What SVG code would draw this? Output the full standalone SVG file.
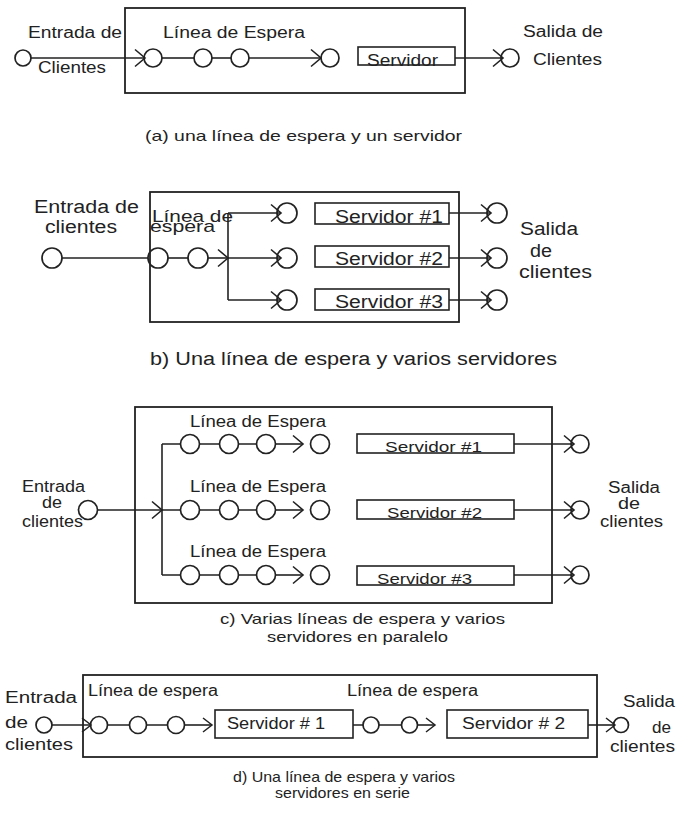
<svg xmlns="http://www.w3.org/2000/svg" width="678" height="820" viewBox="0 0 678 820">
<style>
.box{fill:none;stroke:#222;stroke-width:1.8}
.srv{fill:#fff;stroke:#222;stroke-width:1.6}
.c{fill:none;stroke:#222;stroke-width:1.7}
.ln{fill:none;stroke:#222;stroke-width:1.6}
text{font-family:"Liberation Sans",Arial,sans-serif;fill:#222}
.f16{font-size:16px}.f15{font-size:15px}.f17{font-size:17px}.f18{font-size:18px}
</style>
<defs>
<marker id="ch" markerUnits="userSpaceOnUse" viewBox="-1 -1 12 19" refX="10" refY="8.5" markerWidth="12" markerHeight="19" orient="auto" overflow="visible">
<path d="M0,0 L10,8.5 L0,17" fill="none" stroke="#222" stroke-width="1.6"/>
</marker>
<marker id="chs" markerUnits="userSpaceOnUse" viewBox="-1 -1 11 16" refX="9" refY="7" markerWidth="11" markerHeight="16" orient="auto" overflow="visible">
<path d="M0,0 L9,7 L0,14" fill="none" stroke="#222" stroke-width="1.5"/>
</marker>
</defs>

<!-- (a) -->
<g id="a-system"><rect class="box" x="125" y="8" width="340" height="85"/></g>
<g id="a-entry"><circle class="c" cx="23" cy="58" r="8"/>
<text class="f16" x="28" y="38" textLength="94" lengthAdjust="spacingAndGlyphs">Entrada de</text>
<text class="f16" x="38" y="73" textLength="68" lengthAdjust="spacingAndGlyphs">Clientes</text></g>
<g id="a-queue"><text class="f16" x="163" y="38" textLength="142" lengthAdjust="spacingAndGlyphs">Línea de Espera</text>
<circle class="c" cx="153" cy="58" r="9"/><circle class="c" cx="203" cy="58" r="9"/><circle class="c" cx="240" cy="58" r="9"/><circle class="c" cx="330" cy="58" r="9"/></g>
<g id="a-server"><rect class="srv" x="358" y="47" width="97" height="18"/>
<text class="f16" x="367" y="66" textLength="71" lengthAdjust="spacingAndGlyphs">Servidor</text></g>
<g id="a-exit"><circle class="c" cx="510" cy="58" r="9"/>
<text class="f16" x="523" y="37" textLength="80" lengthAdjust="spacingAndGlyphs">Salida de</text>
<text class="f16" x="533" y="65" textLength="69" lengthAdjust="spacingAndGlyphs">Clientes</text></g>
<g id="a-caption"><text class="f15" x="145" y="141" textLength="317" lengthAdjust="spacingAndGlyphs">(a) una línea de espera y un servidor</text></g>

<!-- (b) -->
<g id="b-system"><rect class="box" x="150" y="192" width="309" height="130"/></g>
<g id="b-entry"><circle class="c" cx="52" cy="258" r="10"/>
<text class="f18" x="34" y="213" textLength="105" lengthAdjust="spacingAndGlyphs">Entrada de</text>
<text class="f18" x="45" y="233" textLength="72" lengthAdjust="spacingAndGlyphs">clientes</text></g>
<g id="b-queue"><text class="f17" x="152" y="222" textLength="81" lengthAdjust="spacingAndGlyphs">Línea de</text>
<text class="f17" x="150" y="232" textLength="65" lengthAdjust="spacingAndGlyphs">espera</text>
<circle class="c" cx="158" cy="258" r="10"/><circle class="c" cx="198" cy="258" r="10"/>
<circle class="c" cx="287" cy="213" r="10"/><circle class="c" cx="287" cy="258" r="10"/><circle class="c" cx="287" cy="300" r="10"/></g>
<g id="b-server1"><rect class="srv" x="315" y="203" width="134" height="21"/><text class="f18" x="335" y="223" textLength="108" lengthAdjust="spacingAndGlyphs">Servidor #1</text></g>
<g id="b-server2"><rect class="srv" x="315" y="246" width="134" height="21"/><text class="f18" x="335" y="265" textLength="108" lengthAdjust="spacingAndGlyphs">Servidor #2</text></g>
<g id="b-server3"><rect class="srv" x="315" y="289" width="134" height="21"/><text class="f18" x="335" y="308" textLength="108" lengthAdjust="spacingAndGlyphs">Servidor #3</text></g>
<g id="b-exit"><circle class="c" cx="497" cy="213" r="10"/><circle class="c" cx="497" cy="258" r="10"/><circle class="c" cx="497" cy="300" r="10"/>
<text class="f18" x="520" y="235" textLength="58" lengthAdjust="spacingAndGlyphs">Salida</text>
<text class="f18" x="530" y="257" textLength="22" lengthAdjust="spacingAndGlyphs">de</text>
<text class="f18" x="519" y="278" textLength="73" lengthAdjust="spacingAndGlyphs">clientes</text></g>
<g id="b-caption"><text class="f18" x="150" y="365" textLength="407" lengthAdjust="spacingAndGlyphs">b) Una línea de espera y varios servidores</text></g>

<!-- (c) -->
<g id="c-system"><rect class="box" x="135" y="407" width="417" height="196"/></g>
<g id="c-entry"><circle class="c" cx="88" cy="510" r="9.5"/>
<text class="f16" x="22" y="492" textLength="63" lengthAdjust="spacingAndGlyphs">Entrada</text>
<text class="f16" x="42" y="508" textLength="20" lengthAdjust="spacingAndGlyphs">de</text>
<text class="f16" x="22" y="527" textLength="61" lengthAdjust="spacingAndGlyphs">clientes</text></g>
<g id="c-queue1"><text class="f16" x="190" y="427" textLength="136" lengthAdjust="spacingAndGlyphs">Línea de Espera</text>
<circle class="c" cx="190" cy="444" r="9.5"/><circle class="c" cx="229" cy="444" r="9.5"/><circle class="c" cx="266" cy="444" r="9.5"/><circle class="c" cx="320" cy="444" r="9.5"/></g>
<g id="c-queue2"><text class="f16" x="190" y="492" textLength="136" lengthAdjust="spacingAndGlyphs">Línea de Espera</text>
<circle class="c" cx="190" cy="510" r="9.5"/><circle class="c" cx="229" cy="510" r="9.5"/><circle class="c" cx="266" cy="510" r="9.5"/><circle class="c" cx="320" cy="510" r="9.5"/></g>
<g id="c-queue3"><text class="f16" x="190" y="557" textLength="136" lengthAdjust="spacingAndGlyphs">Línea de Espera</text>
<circle class="c" cx="190" cy="575" r="9.5"/><circle class="c" cx="229" cy="575" r="9.5"/><circle class="c" cx="266" cy="575" r="9.5"/><circle class="c" cx="320" cy="575" r="9.5"/></g>
<g id="c-server1"><rect class="srv" x="357" y="434" width="157" height="19"/><text class="f15" x="385" y="452" textLength="97" lengthAdjust="spacingAndGlyphs">Servidor #1</text></g>
<g id="c-server2"><rect class="srv" x="357" y="500" width="157" height="19"/><text class="f15" x="387" y="518" textLength="95" lengthAdjust="spacingAndGlyphs">Servidor #2</text></g>
<g id="c-server3"><rect class="srv" x="357" y="566" width="157" height="19"/><text class="f15" x="377" y="584" textLength="95" lengthAdjust="spacingAndGlyphs">Servidor #3</text></g>
<g id="c-exit"><circle class="c" cx="580" cy="444" r="9"/><circle class="c" cx="580" cy="510" r="9"/><circle class="c" cx="580" cy="575" r="9"/>
<text class="f16" x="608" y="493" textLength="52" lengthAdjust="spacingAndGlyphs">Salida</text>
<text class="f16" x="618" y="509" textLength="22" lengthAdjust="spacingAndGlyphs">de</text>
<text class="f16" x="600" y="527" textLength="63" lengthAdjust="spacingAndGlyphs">clientes</text></g>
<g id="c-caption"><text class="f15" x="220" y="624" textLength="285" lengthAdjust="spacingAndGlyphs">c) Varias líneas de espera y varios</text>
<text class="f15" x="267" y="642" textLength="181" lengthAdjust="spacingAndGlyphs">servidores en paralelo</text></g>

<!-- (d) -->
<g id="d-system"><rect class="box" x="83" y="675" width="514" height="82"/></g>
<g id="d-entry"><circle class="c" cx="44" cy="725" r="8"/>
<text class="f16" x="5" y="703" textLength="72" lengthAdjust="spacingAndGlyphs">Entrada</text>
<text class="f16" x="5" y="728" textLength="23" lengthAdjust="spacingAndGlyphs">de</text>
<text class="f16" x="5" y="750" textLength="68" lengthAdjust="spacingAndGlyphs">clientes</text></g>
<g id="d-queue1"><text class="f16" x="88" y="696" textLength="130" lengthAdjust="spacingAndGlyphs">Línea de espera</text>
<circle class="c" cx="99" cy="725" r="8.5"/><circle class="c" cx="138" cy="725" r="8.5"/><circle class="c" cx="176" cy="725" r="8.5"/></g>
<g id="d-server1"><rect class="srv" x="215" y="710" width="138" height="28"/><text class="f16" x="227" y="729" textLength="98" lengthAdjust="spacingAndGlyphs">Servidor # 1</text></g>
<g id="d-queue2"><text class="f16" x="347" y="696" textLength="131" lengthAdjust="spacingAndGlyphs">Línea de espera</text>
<circle class="c" cx="371" cy="725" r="8"/><circle class="c" cx="409.5" cy="725" r="8"/></g>
<g id="d-server2"><rect class="srv" x="447" y="710" width="141" height="28"/><text class="f16" x="462" y="729" textLength="103" lengthAdjust="spacingAndGlyphs">Servidor # 2</text></g>
<g id="d-exit"><circle class="c" cx="621" cy="725" r="7.5"/>
<text class="f16" x="623" y="707" textLength="52" lengthAdjust="spacingAndGlyphs">Salida</text>
<text class="f16" x="652" y="733" textLength="19" lengthAdjust="spacingAndGlyphs">de</text>
<text class="f16" x="610" y="752" textLength="65" lengthAdjust="spacingAndGlyphs">clientes</text></g>
<g id="d-caption"><text class="f15" x="233" y="782" textLength="222" lengthAdjust="spacingAndGlyphs">d) Una línea de espera y varios</text>
<text class="f15" x="275" y="798" textLength="135" lengthAdjust="spacingAndGlyphs">servidores en serie</text></g>

<g id="connectors">
<!-- a -->
<line class="ln" x1="31" y1="58" x2="145" y2="58" marker-end="url(#ch)"/>
<line class="ln" x1="162" y1="58" x2="194" y2="58"/>
<line class="ln" x1="212" y1="58" x2="231" y2="58"/>
<line class="ln" x1="249" y1="58" x2="321" y2="58" marker-end="url(#ch)"/>
<line class="ln" x1="455" y1="58" x2="503" y2="58" marker-end="url(#ch)"/>
<!-- b -->
<line class="ln" x1="62" y1="258" x2="148" y2="258"/>
<line class="ln" x1="168" y1="258" x2="188" y2="258"/>
<line class="ln" x1="208" y1="258" x2="228" y2="258" marker-end="url(#ch)"/>
<line class="ln" x1="228" y1="213" x2="228" y2="300"/>
<line class="ln" x1="228" y1="213" x2="281" y2="213" marker-end="url(#ch)"/>
<line class="ln" x1="228" y1="258" x2="281" y2="258" marker-end="url(#ch)"/>
<line class="ln" x1="228" y1="300" x2="281" y2="300" marker-end="url(#ch)"/>
<line class="ln" x1="449" y1="213" x2="491" y2="213" marker-end="url(#ch)"/>
<line class="ln" x1="449" y1="258" x2="491" y2="258" marker-end="url(#ch)"/>
<line class="ln" x1="449" y1="300" x2="491" y2="300" marker-end="url(#ch)"/>
<!-- c -->
<line class="ln" x1="97.5" y1="510" x2="162" y2="510" marker-end="url(#ch)"/>
<line class="ln" x1="162" y1="444" x2="162" y2="575"/>
<path class="ln" d="M162,444 H180.5 M199.5,444 H219.5 M238.5,444 H256.5"/>
<path class="ln" d="M162,510 H180.5 M199.5,510 H219.5 M238.5,510 H256.5"/>
<path class="ln" d="M162,575 H180.5 M199.5,575 H219.5 M238.5,575 H256.5"/>
<line class="ln" x1="275.5" y1="444" x2="303" y2="444" marker-end="url(#ch)"/>
<line class="ln" x1="275.5" y1="510" x2="303" y2="510" marker-end="url(#ch)"/>
<line class="ln" x1="275.5" y1="575" x2="303" y2="575" marker-end="url(#ch)"/>
<line class="ln" x1="514" y1="444" x2="574" y2="444" marker-end="url(#ch)"/>
<line class="ln" x1="514" y1="510" x2="574" y2="510" marker-end="url(#ch)"/>
<line class="ln" x1="514" y1="575" x2="574" y2="575" marker-end="url(#ch)"/>
<!-- d -->
<line class="ln" x1="52" y1="725" x2="91" y2="725" marker-end="url(#chs)"/>
<path class="ln" d="M107.5,725 H129.5 M146.5,725 H167.5"/>
<line class="ln" x1="184.5" y1="725" x2="212" y2="725" marker-end="url(#chs)"/>
<path class="ln" d="M353,725 H363 M379,725 H401.5"/>
<line class="ln" x1="417.5" y1="725" x2="435" y2="725" marker-end="url(#chs)"/>
<line class="ln" x1="588" y1="725" x2="615" y2="725" marker-end="url(#chs)"/>
</g>
</svg>
